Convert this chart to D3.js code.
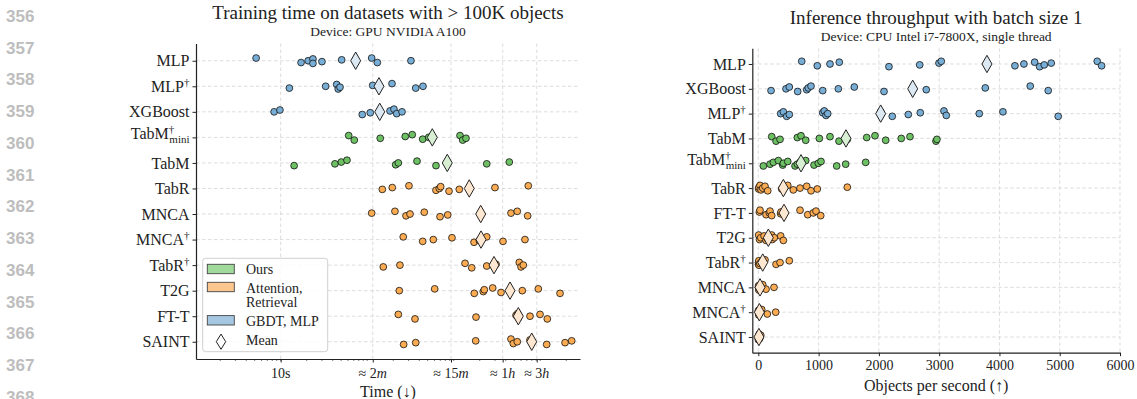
<!DOCTYPE html>
<html>
<head>
<meta charset="utf-8">
<script src="https://cdn.jsdelivr.net/npm/d3@7/dist/d3.min.js"></script>
<style>
  html, body { margin: 0; padding: 0; background: #fff; }
  svg { display: block; }
  text { font-family: "Liberation Serif", "Times New Roman", serif; fill: #222; }
  text.lineno { font-family: "Liberation Sans", Arial, sans-serif; font-weight: bold; fill: #bdbdbd; }
</style>
</head>
<body>
<svg id="chart" width="1137" height="399"></svg>
<script>
// margin line numbers of the paper page
const lineNumbers = d3.range(356, 369);

// left panel: training time in seconds
const trainModels = ["MLP", "MLP^†", "XGBoost", "TabM^†_mini", "TabM", "TabR", "MNCA", "MNCA^†", "TabR^†", "T2G", "FT-T", "SAINT"];
const trainGroups = ["base", "base", "base", "ours", "ours", "attn", "attn", "attn", "attn", "attn", "attn", "attn"];
const trainSeconds = [
  [5.2, 17.2, 20.8, 23.6, 23.6, 30, 50.7, 112.7, 131, 320.6],
  [12.6, 33.1, 44.4, 46.3, 48.5, 115.8, 193.6, 363.9, 441.6],
  [8.4, 9.8, 87.7, 108.6, 183.6, 204, 219.3, 252.6],
  [61.1, 70.9, 141.6, 275.4, 331.7, 438.1, 514, 1183, 1271, 1387],
  [14.3, 42.4, 50.2, 58.4, 213.3, 229, 376.6, 624, 2409, 4392],
  [149.6, 195, 304, 624, 682, 707, 883, 1161, 3000, 7280],
  [112.7, 209.4, 281, 312.6, 457, 695, 853, 4592, 5430, 7160],
  [261, 438, 581, 955, 1718, 1979, 2125, 2409, 3715, 6664],
  [153.5, 239, 1352, 1616, 2409, 3083, 5730, 6000, 6377],
  [235, 603, 1730, 2198, 2259, 2825, 3524, 6209, 9503, 16950],
  [229, 357, 1811, 5250, 5495, 5585, 7621, 9954, 12078],
  [264, 364, 1796, 4592, 4887, 5433, 7621, 11885, 19364, 23120]
];
const trainMeans = [73.6, 136.8, 139.6, 566, 843, 1514, 2052, 2070, 2924, 4477, 5585, 7980];
const trainTickSeconds = [10, 116, 931, 3681, 9120];
const trainTickLabels = [["10s", ""], ["≈ 2", "m"], ["≈ 15", "m"], ["≈ 1", "h"], ["≈ 3", "h"]];

// right panel: objects per second
const inferModels = ["MLP", "XGBoost", "MLP^†", "TabM", "TabM^†_mini", "TabR", "FT-T", "T2G", "TabR^†", "MNCA", "MNCA^†", "SAINT"];
const inferGroups = ["base", "base", "base", "ours", "ours", "attn", "attn", "attn", "attn", "attn", "attn", "attn"];
const inferRates = [
  [720, 978, 1189, 1343, 2167, 2677, 2997, 3035, 4257, 4406, 4584, 4667, 4743, 4859, 5622, 5695],
  [211, 459, 514, 653, 803, 829, 874, 1068, 1327, 1592, 2085, 2786, 3765, 4511, 4809],
  [371, 415, 471, 514, 1068, 1095, 1123, 1151, 2030, 2222, 2488, 2687, 3080, 3118, 3665, 4058, 4975],
  [222, 294, 360, 647, 708, 786, 1012, 1189, 1338, 1476, 1798, 1935, 2113, 2371, 2516, 2947, 2963],
  [83, 194, 249, 332, 405, 415, 488, 609, 647, 692, 786, 924, 995, 1040, 1300, 1449, 1781],
  [5, 10, 28, 45, 73, 111, 156, 388, 415, 488, 580, 692, 803, 874, 978, 1476],
  [17, 28, 128, 182, 194, 222, 371, 376, 692, 820, 912, 957, 1035],
  [5, 20, 40, 95, 128, 150, 182, 222, 230, 265, 371, 415],
  [3, 5, 8, 12, 25, 56, 111, 294, 360, 514],
  [2, 5, 8, 17, 40, 73, 128, 260],
  [2, 6, 12, 30, 56, 149, 288],
  [1, 4, 8, 12, 20, 30, 40]
];
const inferMeans = [3793, 2561, 2030, 1454, 708, 415, 426, 166, 73, 28, 17, 10];
const inferTicks = [0, 1000, 2000, 3000, 4000, 5000, 6000];

const legendLabels = [["Ours"], ["Attention,", "Retrieval"], ["GBDT, MLP"], ["Mean"]];
const legendGroups = ["ours", "attn", "base"];

const colors = {
  ours: { dot: "#6dc063", mean: "#d8efd4", patch: "#a0d99a" },
  attn: { dot: "#fbab52", mean: "#fde7d0", patch: "#fec68f" },
  base: { dot: "#78aed6", mean: "#dce8f2", patch: "#a5c7e1" }
};
const gridColor = "#d4d4d4";
const ink = "#222";

const svg = d3.select("#chart");

// deterministic small vertical jitter for the strip dots
const jit = i => ((i * 5) % 7 - 3) * 0.9;

function modelLabel(sel, name) {
  const [rest, sub] = name.split("_");
  const [base, sup] = rest.split("^");
  sel.text(null);
  sel.append("tspan").text(base);
  if (sup) sel.append("tspan").attr("dy", -6).attr("font-size", 11).text(sup);
  if (sub) sel.append("tspan").attr("dx", -5).attr("dy", 10).attr("font-size", 11).text(sub);
  if (sub) sel.attr("dy", "0.1em");
}

function diamond(w, h) {
  return `M0,${-h}L${w},0L0,${h}L${-w},0Z`;
}

function panel(opt) {
  const g = svg.append("g");
  const x = opt.x;
  const y = d3.scalePoint().domain(opt.models).range(opt.yRange).padding(opt.pad);
  const [x0, x1] = x.range();
  const [y0, y1] = opt.yRange;

  // grid
  g.append("g").selectAll("line").data(opt.gridX).join("line")
    .attr("x1", d => x(d)).attr("x2", d => x(d)).attr("y1", y0).attr("y2", y1)
    .attr("stroke", gridColor).attr("stroke-width", 0.8).attr("stroke-dasharray", "3.5,2.5");
  g.append("g").selectAll("line").data(opt.models).join("line")
    .attr("x1", x0).attr("x2", x1).attr("y1", d => y(d)).attr("y2", d => y(d))
    .attr("stroke", gridColor).attr("stroke-width", 0.8).attr("stroke-dasharray", "3.5,2.5");

  // dots
  opt.models.forEach((m, r) => {
    const col = colors[opt.groups[r]];
    g.append("g").selectAll("circle").data(opt.values[r]).join("circle")
      .attr("cx", d => x(d))
      .attr("cy", (d, i) => y(m) + jit(i + r))
      .attr("r", 3.4)
      .attr("fill", col.dot)
      .attr("stroke", "#111")
      .attr("stroke-width", 0.8);
  });

  // means
  g.append("g").selectAll("path").data(opt.models).join("path")
    .attr("transform", (d, r) => `translate(${x(opt.means[r])},${y(d)})`)
    .attr("d", diamond(5, 8.7))
    .attr("fill", (d, r) => colors[opt.groups[r]].mean)
    .attr("stroke", ink)
    .attr("stroke-width", 1);

  // y axis
  g.append("g")
    .attr("transform", `translate(${x0},0)`)
    .call(d3.axisLeft(y).tickSize(3.5).tickSizeOuter(0).tickPadding(3))
    .call(a => a.select(".domain").attr("stroke", ink).attr("stroke-width", 1.2))
    .call(a => a.selectAll(".tick line").attr("stroke", ink))
    .call(a => a.selectAll(".tick text")
      .attr("font-size", 16).attr("fill", ink)
      .each(function (d) { modelLabel(d3.select(this), d); }));

  // x axis
  const xa = g.append("g").attr("transform", `translate(0,${y1})`);
  xa.call(opt.xAxis.tickSize(3.5).tickSizeOuter(0).tickPadding(4))
    .call(a => a.select(".domain").attr("stroke", ink).attr("stroke-width", 1.2))
    .call(a => a.selectAll(".tick line").attr("stroke", ink))
    .call(a => a.selectAll(".tick text").attr("font-size", 14).attr("fill", ink));
  if (opt.minor) {
    xa.append("g").selectAll("line").data(opt.minor).join("line")
      .attr("x1", d => x(d)).attr("x2", d => x(d)).attr("y1", 0).attr("y2", 2)
      .attr("stroke", ink).attr("stroke-width", 0.6);
  }

  // titles
  const cx = (x0 + x1) / 2;
  svg.append("text").attr("x", cx).attr("y", opt.titleY).attr("text-anchor", "middle")
    .attr("font-size", 19).text(opt.title);
  svg.append("text").attr("x", cx).attr("y", opt.titleY + 17).attr("text-anchor", "middle")
    .attr("font-size", 13.5).text(opt.subtitle);
  svg.append("text").attr("x", cx).attr("y", y1 + 38).attr("text-anchor", "middle")
    .attr("font-size", 16).text(opt.xlabel);

  return { g, x, y };
}

// left panel
const xTrain = d3.scaleLog().domain([1.05, 28840]).range([196, 580]);
const minorSeconds = [];
[1, 10, 100, 1000, 10000].forEach(p => d3.range(1, 10).forEach(k => {
  const v = k * p;
  if (v > 1.05 && v < 28840) minorSeconds.push(v);
}));

const left = panel({
  x: xTrain,
  models: trainModels, groups: trainGroups, values: trainSeconds, means: trainMeans,
  yRange: [43.5, 359], pad: 0.675,
  gridX: trainTickSeconds,
  xAxis: d3.axisBottom(xTrain).tickValues(trainTickSeconds).tickFormat(""),
  minor: minorSeconds,
  title: "Training time on datasets with > 100K objects",
  subtitle: "Device: GPU NVIDIA A100",
  titleY: 19,
  xlabel: "Time (↓)"
});

// custom tick labels with italic units
left.g.append("g").selectAll("text").data(trainTickSeconds).join("text")
  .attr("x", d => xTrain(d)).attr("y", 378).attr("text-anchor", "middle")
  .attr("font-size", 14)
  .each(function (d, i) {
    const t = d3.select(this);
    t.append("tspan").text(trainTickLabels[i][0]);
    if (trainTickLabels[i][1]) t.append("tspan").attr("font-style", "italic").text(trainTickLabels[i][1]);
  });

// legend
const lg = left.g.append("g").attr("transform", "translate(202.7,258.3)");
lg.append("rect").attr("width", 125).attr("height", 93.4).attr("rx", 3)
  .attr("fill", "#fff").attr("fill-opacity", 0.85).attr("stroke", "#cfcfcf").attr("stroke-width", 1);
const patchY = [10.7, 28.7, 62];
legendGroups.forEach((grp, i) => {
  lg.append("rect").attr("x", 4.6).attr("y", patchY[i] - 4.7).attr("width", 27).attr("height", 9.4)
    .attr("fill", colors[grp].patch).attr("stroke", "#444").attr("stroke-width", 0.9);
});
lg.append("path").attr("transform", "translate(18.3,83.4)").attr("d", diamond(4.7, 7.6))
  .attr("fill", "#fff").attr("stroke", ink).attr("stroke-width", 1);
const lineY = [[10.7], [30, 43.4], [62.4], [81.7]];
legendLabels.forEach((lines, i) => {
  lines.forEach((s, j) => {
    lg.append("text").attr("x", 43.3).attr("y", lineY[i][j]).attr("dy", "0.35em")
      .attr("font-size", 14).text(s);
  });
});

// right panel
const xInfer = d3.scaleLinear().domain([-100, 6000]).range([752.3, 1120]);
panel({
  x: xInfer,
  models: inferModels, groups: inferGroups, values: inferRates, means: inferMeans,
  yRange: [48.3, 352.7], pad: 0.632,
  gridX: inferTicks,
  xAxis: d3.axisBottom(xInfer).tickValues(inferTicks).tickFormat(d3.format("d")),
  title: "Inference throughput with batch size 1",
  subtitle: "Device: CPU Intel i7-7800X, single thread",
  titleY: 24,
  xlabel: "Objects per second (↑)"
});

// paper line numbers
const ln = d3.scaleLinear().domain([356, 368]).range([15.7, 396.7]);
svg.append("g").selectAll("text").data(lineNumbers).join("text")
  .attr("class", "lineno")
  .attr("x", 6).attr("y", d => ln(d)).attr("dy", "0.36em")
  .attr("font-size", 17)
  .text(d => d);
</script>
</body>
</html>
